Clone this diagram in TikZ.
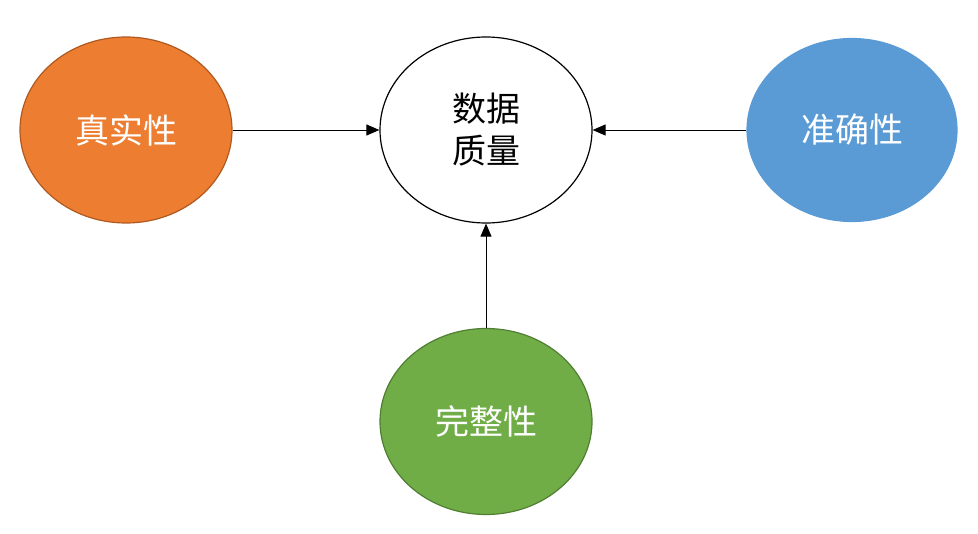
\documentclass[tikz,border=0pt]{standalone}
\usepackage{fontspec}
\newfontfamily\cjk{Noto Sans CJK SC}
\usetikzlibrary{shapes.geometric,arrows.meta}
\definecolor{orangeF}{HTML}{ED7D31}
\definecolor{orangeD}{HTML}{AE5A21}
\definecolor{blueF}{HTML}{5B9BD5}
\definecolor{greenF}{HTML}{70AD47}
\definecolor{greenD}{HTML}{507E32}
\tikzset{
  blob/.style={ellipse, minimum width=212bp, minimum height=186bp, inner sep=0pt, line width=1.2bp,
    font=\cjk\fontsize{34bp}{42bp}\selectfont, align=center},
  conn/.style={line width=0.9bp, -{Triangle[length=13bp,width=11bp]}}
}
\begin{document}
\begin{tikzpicture}[x=1bp,y=-1bp]
\useasboundingbox (0,0) rectangle (978,534);
\node[blob, draw=black, fill=white, text=black] (q) at (486,130) {数据\\质量};
\node[blob, draw=orangeD, fill=orangeF, text=white] (r) at (126,130) {真实性};
\node[blob, draw=blueF, fill=blueF, text=white, minimum width=210bp, minimum height=183bp] (a) at (852,130) {准确性};
\node[blob, draw=greenD, fill=greenF, text=white] (c) at (486,421.5) {完整性};
\draw[conn] (r.east) -- (q.west);
\draw[conn] (a.west) -- (q.east);
\draw[conn] (c.north) -- (q.south);
\end{tikzpicture}
\end{document}
